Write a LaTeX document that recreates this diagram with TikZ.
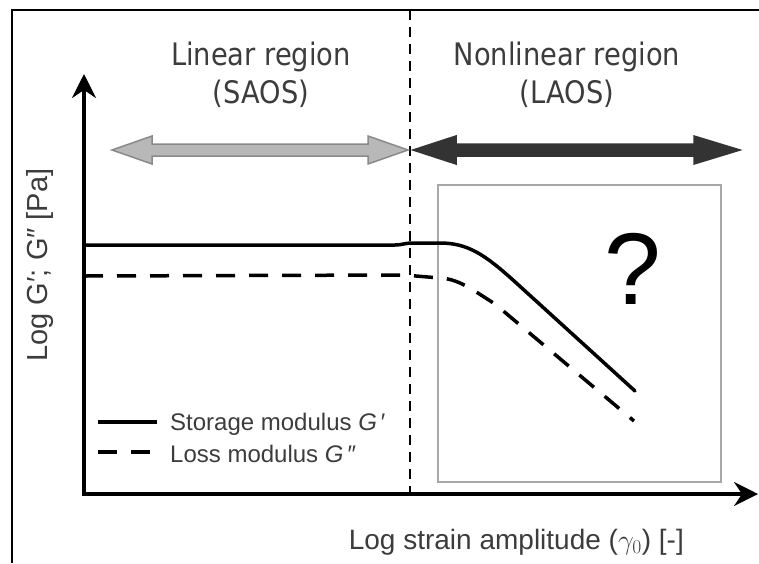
\documentclass[tikz,border=0pt]{standalone}
\usepackage{fix-cm}
\usepackage{fontspec}
\setmainfont{Liberation Sans}
\newfontfamily\titlefont[FakeStretch=0.88]{DejaVu Sans}
\usetikzlibrary{arrows.meta}
\definecolor{txtgray}{HTML}{3C3C3C}
\definecolor{boxgray}{HTML}{A8A8A8}
\definecolor{lightarrow}{HTML}{B8B8B8}
\definecolor{lightarrowedge}{HTML}{8A8A8A}
\definecolor{darkarrow}{HTML}{333333}
\tikzset{
  frameline/.style={line width=2.5pt, black},
  axisline/.style={line width=3.5pt, black, -{Stealth[length=24pt,width=24pt,inset=8pt]}},
  divider/.style={line width=2pt, black, dash pattern=on 10pt off 7pt},
  solidcurve/.style={line width=3.5pt, black, line cap=round},
  dashcurve/.style={line width=3.5pt, black, dash pattern=on 19pt off 14pt},
  titletext/.style={font=\titlefont\fontsize{31}{37}\selectfont, text=txtgray, inner sep=0pt, anchor=base},
  legtext/.style={font=\fontsize{24}{28}\selectfont, text=txtgray, inner sep=0pt, anchor=base west},
  axlabel/.style={font=\fontsize{28}{32}\selectfont, text=txtgray, inner sep=0pt},
  lightbar/.style={fill=lightarrow, draw=lightarrowedge, line width=1.5pt, line join=miter},
  darkbar/.style={fill=darkarrow, draw=darkarrow, line width=1.5pt, line join=miter},
  qbox/.style={draw=boxgray, line width=2.5pt}
}
\begin{document}
\begin{tikzpicture}[x=1pt, y=-1pt]
\useasboundingbox (0,0) rectangle (759,563);
% frame
\coordinate (fbl) at (12,563);
\coordinate (ftl) at (12,10);
\coordinate (ftr) at (759,10);
\draw[frameline] (fbl) -- (ftl) -- (ftr);
% question box
\coordinate (qbtl) at (438,185);
\coordinate (qbbr) at (721,482);
\draw[qbox] (qbtl) rectangle (qbbr);
\node[font=\fontsize{102}{102}\selectfont, inner sep=0pt, anchor=base] (q) at (633,304) {?};
% divider
\coordinate (divtop) at (410,10);
\coordinate (divbot) at (410,494);
\draw[divider] (divtop) -- (divbot);
% axes
\coordinate (O) at (84,494);
\coordinate (ytop) at (84,74);
\coordinate (xend) at (758,494);
\draw[axisline] (84,495.75) -- (ytop);
\draw[axisline] (82.25,494) -- (xend);
% region titles
\node[titletext] (lin1) at (261,65) {Linear region};
\node[titletext] (lin2) at (261,103) {(SAOS)};
\node[titletext] (non1) at (567,65) {Nonlinear region};
\node[titletext] (non2) at (567,103) {(LAOS)};
% double arrows
\draw[lightbar] (112,150) -- (152,136) -- (152,144) -- (368,144) -- (368,136) -- (408,150)
  -- (368,164) -- (368,156) -- (152,156) -- (152,164) -- cycle;
\draw[darkbar] (413,150) -- (456,136) -- (456,144) -- (694,144) -- (694,136) -- (740,150)
  -- (694,164) -- (694,156) -- (456,156) -- (456,164) -- cycle;
% curves
\draw[solidcurve] (84,245) -- (395,245) .. controls (402,245) and (405,243) .. (412,243)
  -- (440,243) .. controls (468,243) and (485,255) .. (513,280) -- (635,391);
\draw[dashcurve] (84,276) -- (404,275) -- (440,278) .. controls (458,279) and (470,288) .. (495,304) -- (634,421);
% legend
\coordinate (l1a) at (98,422);
\coordinate (l1b) at (157,422);
\coordinate (l2a) at (98,452);
\coordinate (l2b) at (155,452);
\draw[solidcurve, line cap=butt] (l1a) -- (l1b);
\draw[dashcurve] (l2a) -- (l2b);
\node[legtext] (leg1) at (170,430) {Storage modulus \textit{G}\,′};
\node[legtext] (leg2) at (170,462) {Loss modulus \textit{G}\,″};
% axis labels
\node[axlabel, rotate=90, font=\fontsize{29}{32}\selectfont] (ylab) at (40,265) {Log G′; G″ [Pa]};
\node[axlabel, anchor=base east] (xlab) at (684,549) {Log strain amplitude ($\gamma_0$) [-]};
\end{tikzpicture}
\end{document}
